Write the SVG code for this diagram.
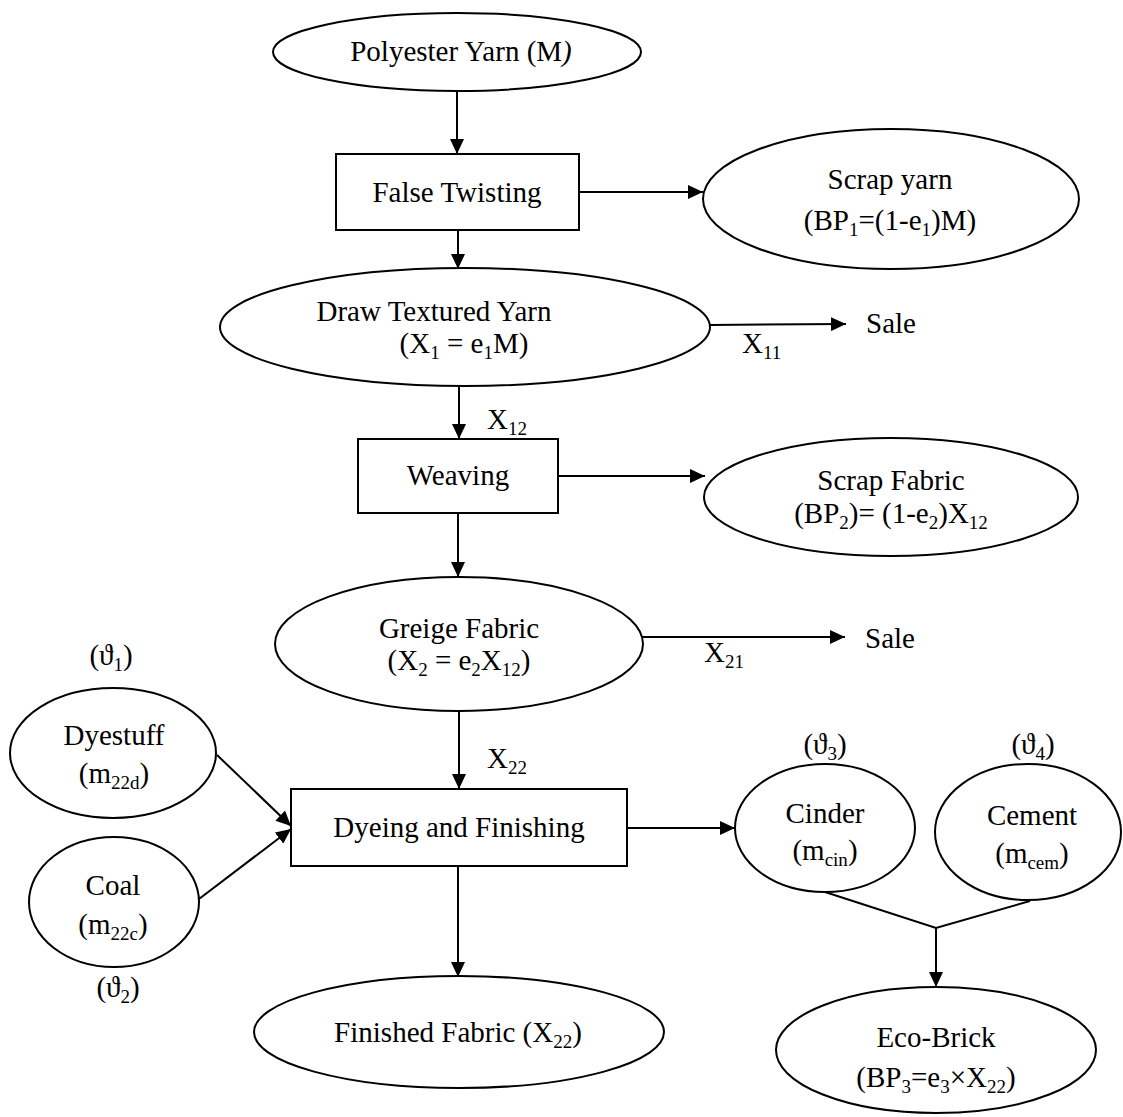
<svg xmlns="http://www.w3.org/2000/svg" width="1123" height="1117" viewBox="0 0 1123 1117">
<style>
.n{fill:#fff;stroke:#000;stroke-width:2}
.t{font-family:"Liberation Serif","DejaVu Serif",serif;font-size:29px;fill:#000;text-anchor:middle}
.l{font-family:"Liberation Serif","DejaVu Serif",serif;font-size:29px;fill:#000}
.s{font-size:19px}
.c{fill:none;stroke:#000;stroke-width:2}
</style>
<defs>
<marker id="ah" markerUnits="userSpaceOnUse" markerWidth="16" markerHeight="14" refX="15" refY="7" orient="auto">
<path d="M0,0 L15,7 L0,14 z" fill="#000"/>
</marker>
</defs>
<rect width="1123" height="1117" fill="#fff"/>
<g id="connectors">
<line class="c" x1="457" y1="91" x2="457" y2="154" marker-end="url(#ah)"/>
<line class="c" x1="579" y1="192" x2="703" y2="192" marker-end="url(#ah)"/>
<line class="c" x1="458" y1="230" x2="458" y2="269" marker-end="url(#ah)"/>
<line class="c" x1="710" y1="325" x2="846" y2="324" marker-end="url(#ah)"/>
<line class="c" x1="459" y1="386" x2="459" y2="439" marker-end="url(#ah)"/>
<line class="c" x1="558" y1="476" x2="705" y2="476" marker-end="url(#ah)"/>
<line class="c" x1="458" y1="513" x2="458" y2="577" marker-end="url(#ah)"/>
<line class="c" x1="642" y1="637" x2="845" y2="637" marker-end="url(#ah)"/>
<line class="c" x1="459" y1="711" x2="459" y2="789" marker-end="url(#ah)"/>
<line class="c" x1="217" y1="755" x2="291" y2="826" marker-end="url(#ah)"/>
<line class="c" x1="199" y1="899" x2="291" y2="829" marker-end="url(#ah)"/>
<line class="c" x1="627" y1="828" x2="735" y2="828" marker-end="url(#ah)"/>
<line class="c" x1="458" y1="866" x2="458" y2="977" marker-end="url(#ah)"/>
<polyline class="c" points="825,892 936,928 1030,901"/>
<line class="c" x1="936" y1="928" x2="936" y2="987" marker-end="url(#ah)"/>
<text class="l" x="742" y="353">X<tspan class="s" dy="6">11</tspan></text>
<text class="l" x="487" y="429">X<tspan class="s" dy="6">12</tspan></text>
<text class="l" x="704" y="662">X<tspan class="s" dy="6">21</tspan></text>
<text class="l" x="487" y="768">X<tspan class="s" dy="6">22</tspan></text>
</g>
<g id="polyester">
<ellipse class="n" cx="457" cy="52" rx="184" ry="39"/>
<text class="t" x="461" y="61">Polyester Yarn (M<tspan font-style="italic">)</tspan></text>
</g>
<g id="false-twisting">
<rect class="n" x="336" y="154" width="243" height="76"/>
<text class="t" x="457" y="202">False Twisting</text>
</g>
<g id="scrap-yarn">
<ellipse class="n" cx="891" cy="199" rx="188" ry="70"/>
<text class="t" x="890" y="189">Scrap yarn</text>
<text class="t" x="890" y="230">(BP<tspan class="s" dy="6">1</tspan><tspan dy="-6">=(1-e</tspan><tspan class="s" dy="6">1</tspan><tspan dy="-6">)M)</tspan></text>
</g>
<g id="draw-textured">
<ellipse class="n" cx="465" cy="327" rx="245" ry="59"/>
<text class="t" x="434" y="321">Draw Textured Yarn</text>
<text class="t" x="464" y="353">(X<tspan class="s" dy="6">1</tspan><tspan dy="-6"> = e</tspan><tspan class="s" dy="6">1</tspan><tspan dy="-6">M)</tspan></text>
</g>
<g id="sale1">
<text class="l" x="866" y="333">Sale</text>
</g>
<g id="weaving">
<rect class="n" x="358" y="439" width="200" height="74"/>
<text class="t" x="458" y="485">Weaving</text>
</g>
<g id="scrap-fabric">
<ellipse class="n" cx="891" cy="497" rx="187" ry="59"/>
<text class="t" x="891" y="490">Scrap Fabric</text>
<text class="t" x="891" y="523">(BP<tspan class="s" dy="6">2</tspan><tspan dy="-6">)= (1-e</tspan><tspan class="s" dy="6">2</tspan><tspan dy="-6">)X</tspan><tspan class="s" dy="6">12</tspan></text>
</g>
<g id="greige">
<ellipse class="n" cx="459" cy="644" rx="184" ry="67"/>
<text class="t" x="459" y="638">Greige Fabric</text>
<text class="t" x="459" y="670">(X<tspan class="s" dy="6">2</tspan><tspan dy="-6"> = e</tspan><tspan class="s" dy="6">2</tspan><tspan dy="-6">X</tspan><tspan class="s" dy="6">12</tspan><tspan dy="-6">)</tspan></text>
</g>
<g id="sale2">
<text class="l" x="865" y="648">Sale</text>
</g>
<g id="dyestuff">
<text class="t" x="111" y="665">(ϑ<tspan class="s" dy="6">1</tspan><tspan dy="-6">)</tspan></text>
<ellipse class="n" cx="113" cy="753" rx="103" ry="65"/>
<text class="t" x="114" y="745">Dyestuff</text>
<text class="t" x="114" y="783">(m<tspan class="s" dy="6">22d</tspan><tspan dy="-6">)</tspan></text>
</g>
<g id="coal">
<ellipse class="n" cx="114" cy="902" rx="85" ry="65"/>
<text class="t" x="113" y="895">Coal</text>
<text class="t" x="113" y="934">(m<tspan class="s" dy="6">22c</tspan><tspan dy="-6">)</tspan></text>
<text class="t" x="118" y="997">(ϑ<tspan class="s" dy="6">2</tspan><tspan dy="-6">)</tspan></text>
</g>
<g id="dyeing">
<rect class="n" x="291" y="789" width="336" height="77"/>
<text class="t" x="459" y="837">Dyeing and Finishing</text>
</g>
<g id="cinder">
<text class="t" x="825" y="754">(ϑ<tspan class="s" dy="6">3</tspan><tspan dy="-6">)</tspan></text>
<ellipse class="n" cx="825" cy="828" rx="90" ry="64"/>
<text class="t" x="825" y="823">Cinder</text>
<text class="t" x="825" y="860">(m<tspan class="s" dy="6">cin</tspan><tspan dy="-6">)</tspan></text>
</g>
<g id="cement">
<text class="t" x="1033" y="754">(ϑ<tspan class="s" dy="6">4</tspan><tspan dy="-6">)</tspan></text>
<ellipse class="n" cx="1028" cy="832" rx="93" ry="68"/>
<text class="t" x="1032" y="825">Cement</text>
<text class="t" x="1032" y="863">(m<tspan class="s" dy="6">cem</tspan><tspan dy="-6">)</tspan></text>
</g>
<g id="finished">
<ellipse class="n" cx="459" cy="1032" rx="205" ry="56"/>
<text class="t" x="458" y="1042">Finished Fabric (X<tspan class="s" dy="6">22</tspan><tspan dy="-6">)</tspan></text>
</g>
<g id="eco-brick">
<ellipse class="n" cx="936" cy="1050" rx="160" ry="63"/>
<text class="t" x="936" y="1047">Eco-Brick</text>
<text class="t" x="936" y="1087">(BP<tspan class="s" dy="6">3</tspan><tspan dy="-6">=e</tspan><tspan class="s" dy="6">3</tspan><tspan dy="-6">×X</tspan><tspan class="s" dy="6">22</tspan><tspan dy="-6">)</tspan></text>
</g>
</svg>
